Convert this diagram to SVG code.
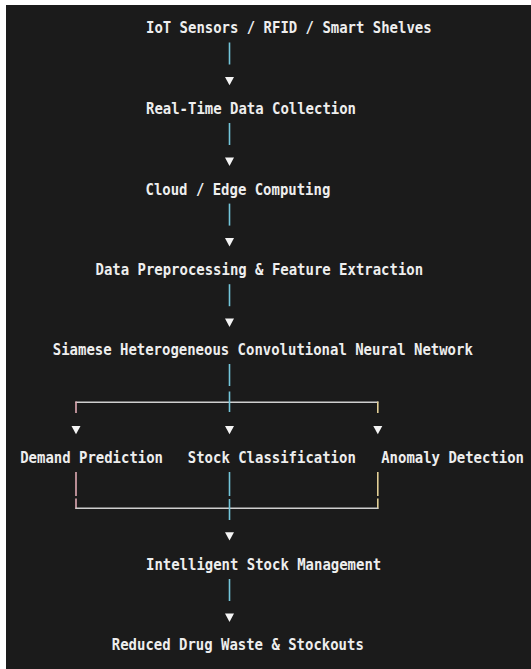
<svg xmlns="http://www.w3.org/2000/svg" width="531" height="669" viewBox="0 0 531 669">
<style>
  text { font-family: "DejaVu Sans Mono", "Liberation Mono", monospace; font-size: 15.5px; font-weight: bold; fill: #eeeeee; }
  .v { stroke: #74c6da; stroke-width: 1.6; fill: none; }
  .vl { stroke: #e0aab4; stroke-width: 1.6; fill: none; }
  .vr { stroke: #e2cf96; stroke-width: 1.6; fill: none; }
  .h { stroke: #cfcfcf; stroke-width: 1.6; fill: none; }
  .tri { fill: #f4f4f4; }
</style>
<rect x="0" y="0" width="531" height="669" fill="#ffffff"/>
<rect x="6" y="5" width="525" height="664" fill="#1b1b1b"/>

<g id="connectors">
  <line class="v" x1="229.5" y1="42.5" x2="229.5" y2="64.5"/>
  <polygon class="tri" points="225,77 234,77 229.5,85.3"/>
  <line class="v" x1="229.5" y1="123" x2="229.5" y2="145"/>
  <polygon class="tri" points="225,157.6 234,157.6 229.5,165.9"/>
  <line class="v" x1="229.5" y1="203.6" x2="229.5" y2="225.6"/>
  <polygon class="tri" points="225,238.1 234,238.1 229.5,246.4"/>
  <line class="v" x1="229.5" y1="284.2" x2="229.5" y2="306.2"/>
  <polygon class="tri" points="225,318.6 234,318.6 229.5,326.9"/>
  <line class="v" x1="229.5" y1="364" x2="229.5" y2="386"/>
  <line class="h" x1="75.5" y1="402.3" x2="378.3" y2="402.3"/>
  <line class="v" x1="229.5" y1="391.5" x2="229.5" y2="412"/>
  <line class="vl" x1="76" y1="401.5" x2="76" y2="413"/>
  <line class="vr" x1="377.8" y1="401.5" x2="377.8" y2="413"/>
  <polygon class="tri" points="71.5,426 80.5,426 76,434.3"/>
  <polygon class="tri" points="225,426 234,426 229.5,434.3"/>
  <polygon class="tri" points="373.3,426 382.3,426 377.8,434.3"/>
  <line class="vl" x1="76" y1="472" x2="76" y2="496"/>
  <line class="v" x1="229.5" y1="472" x2="229.5" y2="496"/>
  <line class="vr" x1="377.8" y1="472" x2="377.8" y2="496"/>
  <line class="vl" x1="76" y1="498.5" x2="76" y2="509"/>
  <line class="vr" x1="377.8" y1="498.5" x2="377.8" y2="509"/>
  <line class="h" x1="75.5" y1="508.3" x2="378.3" y2="508.3"/>
  <line class="v" x1="229.5" y1="499" x2="229.5" y2="520"/>
  <polygon class="tri" points="225,532.3 234,532.3 229.5,540.6"/>
  <line class="v" x1="229.5" y1="579" x2="229.5" y2="601"/>
  <polygon class="tri" points="225,613.6 234,613.6 229.5,621.9"/>
</g>

<g id="n1"><text x="146" y="33" textLength="285.6" lengthAdjust="spacingAndGlyphs">IoT Sensors / RFID / Smart Shelves</text></g>
<g id="n2"><text x="146" y="114.3" textLength="210" lengthAdjust="spacingAndGlyphs">Real-Time Data Collection</text></g>
<g id="n3"><text x="145.5" y="194.5" textLength="184.8" lengthAdjust="spacingAndGlyphs">Cloud / Edge Computing</text></g>
<g id="n4"><text x="95.5" y="274.8" textLength="327.6" lengthAdjust="spacingAndGlyphs">Data Preprocessing &amp; Feature Extraction</text></g>
<g id="n5"><text x="52.8" y="355.3" textLength="420" lengthAdjust="spacingAndGlyphs">Siamese Heterogeneous Convolutional Neural Network</text></g>
<g id="n6"><text x="20.2" y="462.6" textLength="142.8" lengthAdjust="spacingAndGlyphs">Demand Prediction</text></g>
<g id="n7"><text x="187.8" y="462.6" textLength="168" lengthAdjust="spacingAndGlyphs">Stock Classification</text></g>
<g id="n8"><text x="381.2" y="462.6" textLength="142.8" lengthAdjust="spacingAndGlyphs">Anomaly Detection</text></g>
<g id="n9"><text x="146" y="570" textLength="235.2" lengthAdjust="spacingAndGlyphs">Intelligent Stock Management</text></g>
<g id="n10"><text x="111.8" y="650.3" textLength="252" lengthAdjust="spacingAndGlyphs">Reduced Drug Waste &amp; Stockouts</text></g>
</svg>
